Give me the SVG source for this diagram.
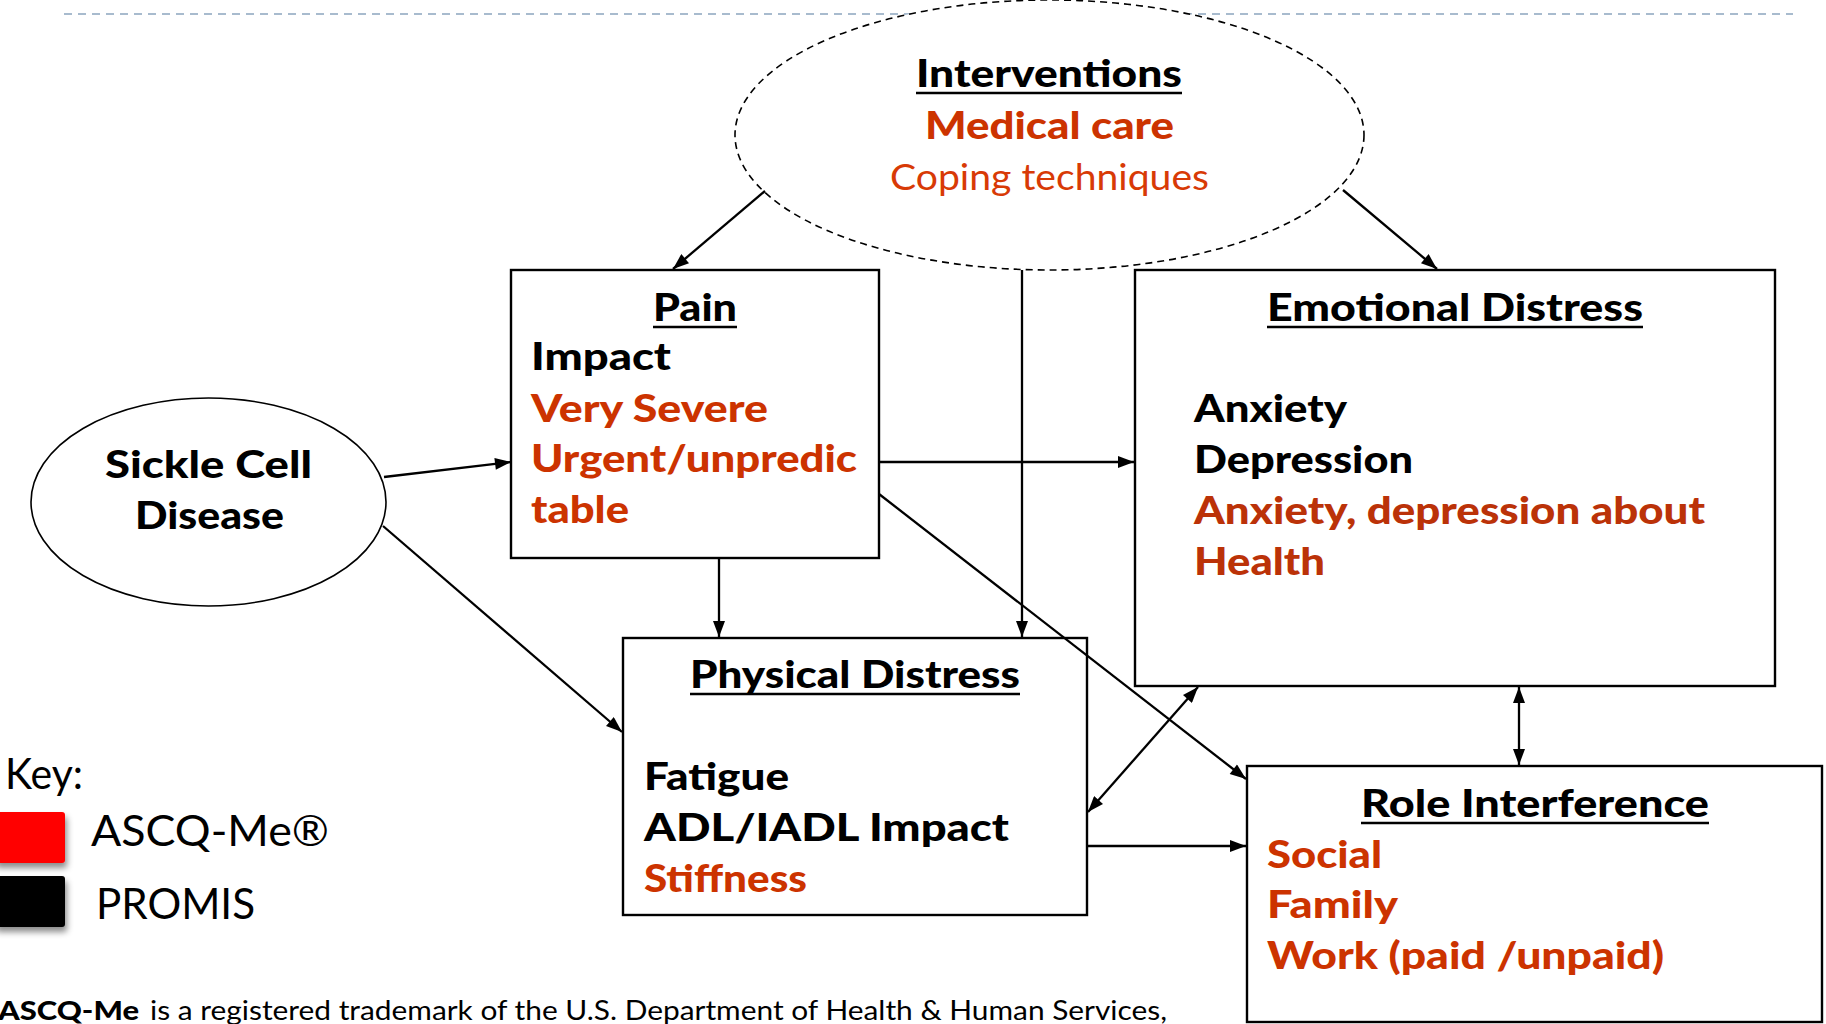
<svg xmlns="http://www.w3.org/2000/svg" width="1826" height="1024" viewBox="0 0 1826 1024">
<defs>
<marker id="ah" viewBox="0 0 16 12" refX="16" refY="6" markerWidth="17" markerHeight="12" markerUnits="userSpaceOnUse" orient="auto-start-reverse">
<path d="M0,0 L16,6 L0,12 z" fill="#000"/>
</marker>
<filter id="sh" x="-20%" y="-20%" width="150%" height="160%">
<feDropShadow dx="2" dy="5" stdDeviation="3" flood-color="#000" flood-opacity="0.45"/>
</filter>
</defs>
<style>
.b{font-family:Lato,"Liberation Sans",sans-serif;font-weight:900;font-size:37px;fill:#000}
.r{fill:#cc3300}
.rd{fill:#bb3208}
.reg{font-family:Lato,"Liberation Sans",sans-serif;font-weight:normal}
.box{fill:#fff;stroke:#000;stroke-width:2.4}
.ul{stroke:#000;stroke-width:2.6}
.cn{stroke:#000;stroke-width:2.3;fill:none;marker-end:url(#ah)}
.dbl{marker-start:url(#ah)}
</style>
<rect width="1826" height="1024" fill="#fff"/>
<line x1="64" y1="14" x2="1793" y2="14" stroke="#a8bbce" stroke-width="2" stroke-dasharray="8 6"/>

<g id="interventions">
<ellipse cx="1049.5" cy="135" rx="314.5" ry="135" fill="#fff" stroke="#000" stroke-width="1.6" stroke-dasharray="7 5"/>
<text class="b" x="916" y="87" textLength="266" lengthAdjust="spacingAndGlyphs">Interventions</text>
<line class="ul" x1="916" y1="93" x2="1182" y2="93"/>
<text class="b r" x="925" y="139" textLength="249" lengthAdjust="spacingAndGlyphs">Medical care</text>
<text class="b reg" x="890" y="190" textLength="319" lengthAdjust="spacingAndGlyphs" style="fill:#d83a06">Coping techniques</text>
</g>

<g id="sickle-cell">
<ellipse cx="208.5" cy="502" rx="177.5" ry="104" fill="#fff" stroke="#000" stroke-width="1.6"/>
<text class="b" x="105" y="478" textLength="207" lengthAdjust="spacingAndGlyphs">Sickle Cell</text>
<text class="b" x="135" y="529" textLength="149" lengthAdjust="spacingAndGlyphs">Disease</text>
</g>

<g id="pain">
<rect class="box" x="511" y="270" width="368" height="288"/>
<text class="b" x="653" y="321" textLength="84" lengthAdjust="spacingAndGlyphs">Pain</text>
<line class="ul" x1="653" y1="327" x2="737" y2="327"/>
<text class="b" x="531" y="370" textLength="140" lengthAdjust="spacingAndGlyphs">Impact</text>
<text class="b r" x="531" y="422" textLength="237" lengthAdjust="spacingAndGlyphs">Very Severe</text>
<text class="b r" x="531" y="472" textLength="326" lengthAdjust="spacingAndGlyphs">Urgent/unpredic</text>
<text class="b r" x="531" y="523" textLength="98" lengthAdjust="spacingAndGlyphs">table</text>
</g>

<g id="emotional-distress">
<rect class="box" x="1135" y="270" width="640" height="416"/>
<text class="b" x="1267" y="321" textLength="376" lengthAdjust="spacingAndGlyphs">Emotional Distress</text>
<line class="ul" x1="1267" y1="327" x2="1643" y2="327"/>
<text class="b" x="1194" y="422" textLength="153" lengthAdjust="spacingAndGlyphs">Anxiety</text>
<text class="b" x="1194" y="473" textLength="219" lengthAdjust="spacingAndGlyphs">Depression</text>
<text class="b rd" x="1194" y="524" textLength="511" lengthAdjust="spacingAndGlyphs">Anxiety, depression about</text>
<text class="b rd" x="1194" y="575" textLength="131" lengthAdjust="spacingAndGlyphs">Health</text>
</g>

<g id="physical-distress">
<rect class="box" x="623" y="638" width="464" height="277"/>
<text class="b" x="690" y="688" textLength="330" lengthAdjust="spacingAndGlyphs">Physical Distress</text>
<line class="ul" x1="690" y1="694" x2="1020" y2="694"/>
<text class="b" x="644" y="790" textLength="145" lengthAdjust="spacingAndGlyphs">Fatigue</text>
<text class="b" x="644" y="841" textLength="365" lengthAdjust="spacingAndGlyphs">ADL/IADL Impact</text>
<text class="b r" x="644" y="892" textLength="163" lengthAdjust="spacingAndGlyphs">Stiffness</text>
</g>

<g id="role-interference">
<rect class="box" x="1247" y="766" width="575" height="256"/>
<text class="b" x="1361" y="817" textLength="348" lengthAdjust="spacingAndGlyphs">Role Interference</text>
<line class="ul" x1="1361" y1="823" x2="1709" y2="823"/>
<text class="b r" x="1267" y="868" textLength="115" lengthAdjust="spacingAndGlyphs">Social</text>
<text class="b r" x="1267" y="918" textLength="131" lengthAdjust="spacingAndGlyphs">Family</text>
<text class="b r" x="1267" y="969" textLength="397" lengthAdjust="spacingAndGlyphs">Work (paid /unpaid)</text>
</g>

<g id="connectors">
<line class="cn" x1="765" y1="191" x2="673" y2="269"/>
<line class="cn" x1="1343" y1="190" x2="1437" y2="269"/>
<line class="cn" x1="1022" y1="270" x2="1022" y2="637"/>
<line class="cn" x1="384" y1="477" x2="511" y2="462"/>
<line class="cn" x1="383" y1="526" x2="622" y2="732"/>
<line class="cn" x1="719" y1="558" x2="719" y2="637"/>
<line class="cn" x1="879" y1="462" x2="1134" y2="462"/>
<line class="cn" x1="879" y1="494" x2="1246" y2="779"/>
<line class="cn dbl" x1="1088" y1="812" x2="1198" y2="687"/>
<line class="cn" x1="1087" y1="846" x2="1246" y2="846"/>
<line class="cn dbl" x1="1519" y1="687" x2="1519" y2="765"/>
</g>

<g id="key">
<text class="b reg" x="5" y="789" style="font-size:43px" textLength="78" lengthAdjust="spacingAndGlyphs">Key:</text>
<rect x="-6" y="812" width="71" height="51" rx="3" fill="#ff0000" filter="url(#sh)"/>
<text class="b reg" x="91" y="846" style="font-size:42px" textLength="238" lengthAdjust="spacingAndGlyphs">ASCQ-Me®</text>
<rect x="-6" y="876" width="71" height="51" rx="3" fill="#000" filter="url(#sh)"/>
<text class="b reg" x="96" y="919" style="font-size:42px" textLength="159" lengthAdjust="spacingAndGlyphs">PROMIS</text>
</g>

<g id="footnote">
<text class="b" x="-2" y="1020" style="font-size:26px" textLength="141" lengthAdjust="spacingAndGlyphs">ASCQ-Me</text>
<text class="b reg" x="150" y="1020" style="font-size:26px" textLength="1017" lengthAdjust="spacingAndGlyphs">is a registered trademark of the U.S. Department of Health &amp; Human Services,</text>
</g>
</svg>
